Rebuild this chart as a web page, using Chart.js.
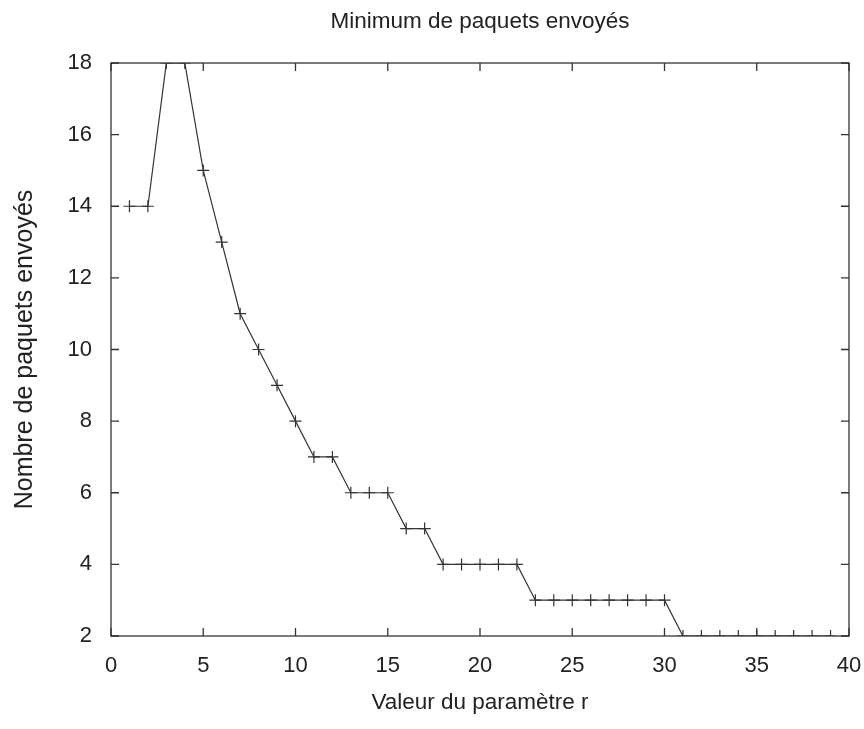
<!DOCTYPE html>
<html>
<head>
<meta charset="utf-8">
<script src="https://cdn.jsdelivr.net/npm/chart.js@4/dist/chart.umd.min.js"></script>
<style>
  html, body { margin: 0; padding: 0; background: #fff; }
  #wrap { width: 864px; height: 729px; }
</style>
</head>
<body>
<div id="wrap"><canvas id="paquetsChart" width="864" height="729"></canvas></div>
<script>
// valeurs du paramètre r et minimum de paquets envoyés
const rValues = [1, 2, 3, 4, 5, 6, 7, 8, 9, 10, 11, 12, 13, 14, 15, 16, 17, 18, 19, 20,
    21, 22, 23, 24, 25, 26, 27, 28, 29, 30, 31, 32, 33, 34, 35, 36, 37, 38, 39];
const minPaquets = [14, 14, 18, 18, 15, 13, 11, 10, 9, 8, 7, 7, 6, 6, 6, 5, 5, 4, 4, 4,
    4, 4, 3, 3, 3, 3, 3, 3, 3, 3, 2, 2, 2, 2, 2, 2, 2, 2, 2];
const xTicks = [0, 5, 10, 15, 20, 25, 30, 35, 40];
const yTicks = [2, 4, 6, 8, 10, 12, 14, 16, 18];

const fontFamily = "'Liberation Sans', Arial, sans-serif";
const inkColor = '#222';

// cadre + graduations vers l'intérieur (style gnuplot)
const framePlugin = {
    id: 'frame',
    afterDatasetsDraw(chart) {
        const ctx = chart.ctx;
        const area = chart.chartArea;
        const xs = chart.scales.x;
        const ys = chart.scales.y;
        const len = 8;
        ctx.save();
        ctx.strokeStyle = '#333';
        ctx.lineWidth = 1.3;
        ctx.strokeRect(area.left, area.top, area.right - area.left, area.bottom - area.top);
        ctx.beginPath();
        xTicks.forEach(v => {
            const px = xs.getPixelForValue(v);
            ctx.moveTo(px, area.bottom);
            ctx.lineTo(px, area.bottom - len);
            ctx.moveTo(px, area.top);
            ctx.lineTo(px, area.top + len);
        });
        yTicks.forEach(v => {
            const py = ys.getPixelForValue(v);
            ctx.moveTo(area.left, py);
            ctx.lineTo(area.left + len, py);
            ctx.moveTo(area.right, py);
            ctx.lineTo(area.right - len, py);
        });
        ctx.stroke();
        ctx.restore();
    }
};

const ctx = document.getElementById('paquetsChart').getContext('2d');
const paquetsChart = new Chart(ctx, {
    type: 'line',
    data: {
        datasets: [{
            label: 'Minimum de paquets envoyés',
            data: rValues.map((r, i) => ({ x: r, y: minPaquets[i] })),
            borderColor: '#333',
            borderWidth: 1.2,
            pointStyle: 'cross',
            pointRadius: 6,
            pointBorderWidth: 1.2,
            pointBorderColor: '#333',
            pointBackgroundColor: '#333',
            fill: false,
            tension: 0,
            clip: 0
        }]
    },
    options: {
        responsive: false,
        animation: false,
        layout: { padding: { left: 0, right: 3, top: 0, bottom: 0 } },
        plugins: {
            legend: { display: false },
            tooltip: { enabled: false },
            title: {
                display: true,
                text: 'Minimum de paquets envoyés',
                fullSize: false,
                color: inkColor,
                font: { family: fontFamily, size: 22.5, weight: 'normal' },
                padding: { top: 8.5, bottom: 27.5 }
            }
        },
        scales: {
            x: {
                type: 'linear',
                min: 0,
                max: 40,
                afterFit(scale) {
                    scale.height = 93;
                    scale.paddingLeft = 0;
                    scale.paddingRight = 15;
                },
                afterBuildTicks(scale) { scale.ticks = xTicks.map(v => ({ value: v })); },
                grid: { display: false, drawTicks: false },
                border: { display: false },
                ticks: {
                    color: inkColor,
                    padding: 17,
                    maxRotation: 0,
                    font: { family: fontFamily, size: 22 }
                },
                title: {
                    display: true,
                    text: 'Valeur du paramètre r',
                    color: inkColor,
                    font: { family: fontFamily, size: 22.5 },
                    padding: { top: 13, bottom: 13 }
                }
            },
            y: {
                type: 'linear',
                min: 2,
                max: 18,
                afterFit(scale) { scale.width = 111; },
                afterBuildTicks(scale) { scale.ticks = yTicks.map(v => ({ value: v })); },
                grid: { display: false, drawTicks: false },
                border: { display: false },
                ticks: {
                    color: inkColor,
                    padding: 19,
                    font: { family: fontFamily, size: 22 }
                },
                title: {
                    display: true,
                    text: 'Nombre de paquets envoyés',
                    color: inkColor,
                    font: { family: fontFamily, size: 25 },
                    padding: { top: 10, bottom: 10 }
                }
            }
        }
    },
    plugins: [framePlugin]
});
</script>
</body>
</html>
